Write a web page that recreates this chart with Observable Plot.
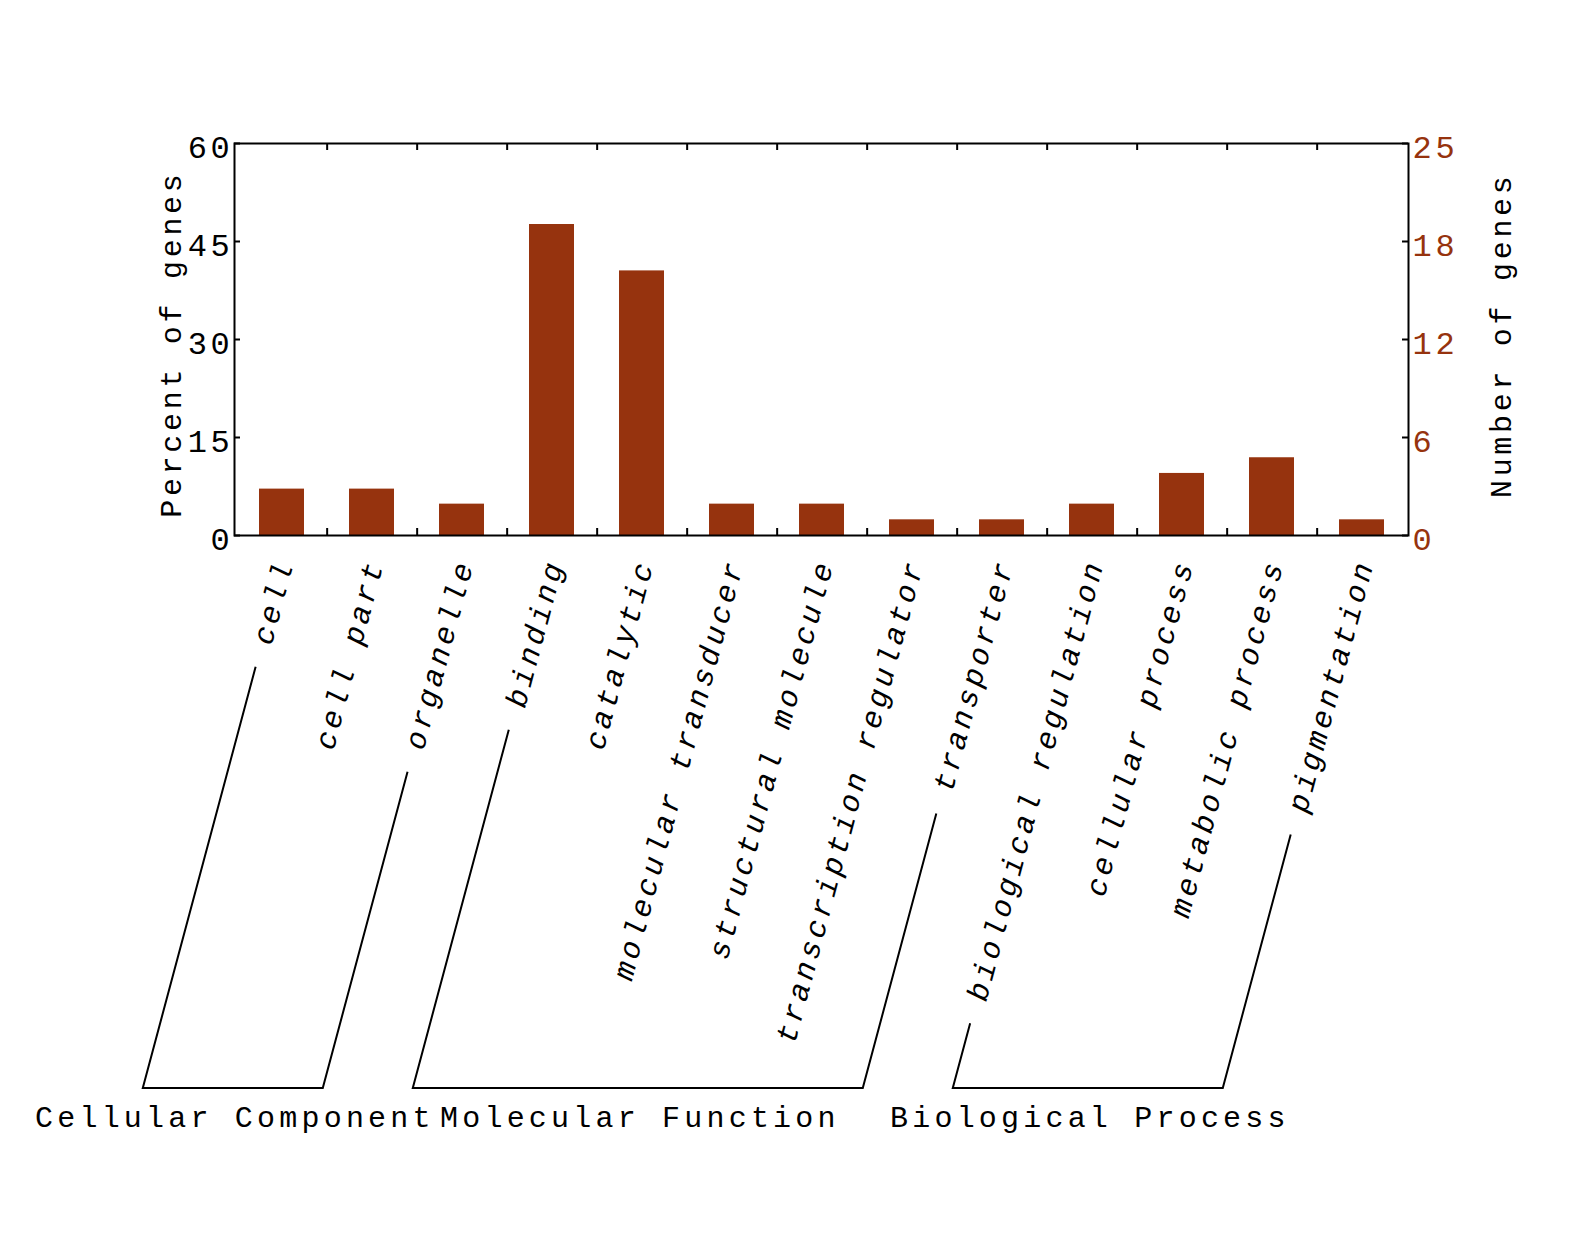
<!DOCTYPE html>
<html>
<head>
<meta charset="utf-8">
<script src="https://cdn.jsdelivr.net/npm/d3@7"></script>
<script src="https://cdn.jsdelivr.net/npm/@observablehq/plot@0.6"></script>
<style>
  html, body { margin: 0; padding: 0; background: #fff; }
  svg { display: block; }
</style>
</head>
<body>
<div id="chart"></div>
<script>
// ---- data ----
const categories = [
  "cell", "cell part", "organelle",
  "binding", "catalytic", "molecular transducer", "structural molecule",
  "transcription regulator", "transporter",
  "biological regulation", "cellular process", "metabolic process", "pigmentation"
];
const categoryGroups = [
  "Cellular Component", "Cellular Component", "Cellular Component",
  "Molecular Function", "Molecular Function", "Molecular Function", "Molecular Function",
  "Molecular Function", "Molecular Function",
  "Biological Process", "Biological Process", "Biological Process", "Biological Process"
];
const groups = ["Cellular Component", "Molecular Function", "Biological Process"];
const percentOfGenes = [7.1, 7.1, 4.8, 47.6, 40.5, 4.8, 4.8, 2.4, 2.4, 4.8, 9.5, 11.9, 2.4];
const percentTicks = [0, 15, 30, 45, 60];
const numberTickLabels = ["0", "6", "12", "18", "25"];
const leftTitle = "Percent of genes";
const rightTitle = "Number of genes";

// ---- style ----
const barColor = "#96330E";
const W = 1595, H = 1258;
const mL = 234, mR = 187, mT = 143, mB = 723;
const plotW = W - mL - mR, plotH = H - mT - mB;
const step = plotW / categories.length;
const fontSize = 30, tickFontSize = 32, letterSpacing = 3.7, groupLetterSpacing = 4.2;
const advance = 0.6 * fontSize + letterSpacing;
const angle = 75 * Math.PI / 180;
const down = [-Math.cos(angle), Math.sin(angle)]; // along label baseline, downward

const rows = categories.map((c, i) => ({category: c, group: categoryGroups[i], percent: percentOfGenes[i]}));

// custom mark: group brackets + group names, positioned from the x scale
function brackets(index, scales, values, dims) {
  const xs = scales.x;
  const bw = xs.bandwidth ? xs.bandwidth() : step / 2;
  const cx = c => xs(c) + bw / 2;
  const axisY = dims.height - dims.marginBottom;
  const baseY = axisY + 553;
  const topOf = c => {
    const L = c.length * advance;
    return [cx(c) - 3.4 + down[0] * L, axisY + 48 + down[1] * L];
  };
  const g = d3.create("svg:g").attr("aria-label", "group brackets");
  for (const grp of groups) {
    const members = categories.filter((c, i) => categoryGroups[i] === grp);
    const t1 = topOf(members[0]);
    const t2 = topOf(members[members.length - 1]);
    const b1 = [t1[0] + (baseY - t1[1]) * down[0] / down[1], baseY];
    const b2 = [t2[0] + (baseY - t2[1]) * down[0] / down[1], baseY];
    g.append("path")
      .attr("d", `M${t1}L${b1}L${b2}L${t2}`)
      .attr("fill", "none").attr("stroke", "black").attr("stroke-width", 2);
    g.append("text")
      .attr("x", (b1[0] + b2[0]) / 2 + groupLetterSpacing / 2).attr("y", baseY + 39)
      .attr("text-anchor", "middle")
      .attr("font-size", fontSize)
      .attr("letter-spacing", groupLetterSpacing)
      .attr("fill", "black")
      .text(grp);
  }
  return g.node();
}

const chart = Plot.plot({
  width: W, height: H,
  marginLeft: mL, marginRight: mR, marginTop: mT, marginBottom: mB,
  style: {fontFamily: "'Liberation Mono', monospace", letterSpacing: letterSpacing + "px", background: "white", color: "black", overflow: "visible"},
  x: {type: "band", domain: categories, paddingInner: 0.5, paddingOuter: 0.25, align: 0.5, axis: null},
  y: {domain: [0, 60], axis: null},
  marks: [
    Plot.barY(rows, {x: "category", y: "percent", fill: barColor}),
    // left axis labels
    Plot.axisY({anchor: "left", ticks: percentTicks, tickSize: 0, tickPadding: 1, fontSize: tickFontSize, dy: 4, label: null, fill: "black"}),
    // right axis labels (number of genes)
    Plot.axisY({anchor: "right", ticks: percentTicks, tickSize: 0, tickPadding: 4, fontSize: tickFontSize, dy: 4, label: null,
      tickFormat: d => numberTickLabels[percentTicks.indexOf(d)], fill: barColor}),
    // inward y ticks
    Plot.tickY(percentTicks, {y: d => d, insetRight: plotW - 6, stroke: "black", strokeWidth: 2}),
    Plot.tickY(percentTicks, {y: d => d, insetLeft: plotW - 6, stroke: "black", strokeWidth: 2}),
    // inward x ticks at band boundaries (bottom and top)
    Plot.tickX(categories.slice(0, -1), {x: d => d, dx: step / 2, insetTop: plotH - 7, stroke: "black", strokeWidth: 2}),
    Plot.tickX(categories.slice(0, -1), {x: d => d, dx: step / 2, insetBottom: plotH - 7, stroke: "black", strokeWidth: 2}),
    // category labels
    Plot.text(categories, {x: d => d, text: d => d, frameAnchor: "bottom", dx: 12, dy: 27, rotate: -75,
      textAnchor: "end", lineAnchor: "bottom", fontStyle: "italic", fontSize: fontSize, fill: "black"}),
    // axis titles
    Plot.text([leftTitle], {text: d => d, frameAnchor: "top-left", dx: -54, dy: 27, rotate: -90,
      textAnchor: "end", lineAnchor: "bottom", fontSize: fontSize, fill: "black"}),
    Plot.text([rightTitle], {text: d => d, frameAnchor: "top-right", dx: 102, dy: 29, rotate: -90,
      textAnchor: "end", lineAnchor: "bottom", fontSize: fontSize, fill: "black"}),
    Plot.frame({stroke: "black", strokeWidth: 2}),
    brackets
  ]
});

document.getElementById("chart").appendChild(chart);
</script>
</body>
</html>
